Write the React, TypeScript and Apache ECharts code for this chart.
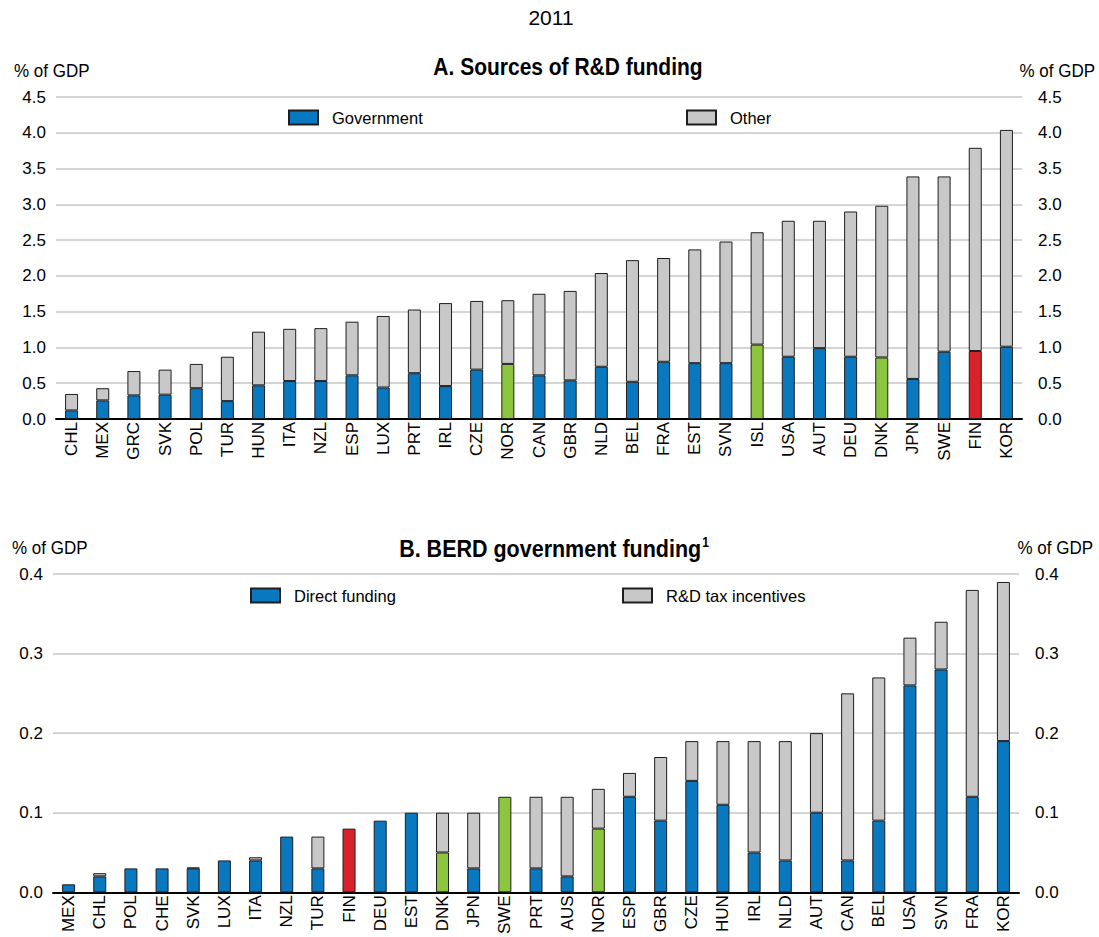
import React, { useEffect, useRef } from "react";
import * as echarts from "echarts";

const topCountries = ["CHL","MEX","GRC","SVK","POL","TUR","HUN","ITA","NZL","ESP","LUX","PRT","IRL","CZE","NOR","CAN","GBR","NLD","BEL","FRA","EST","SVN","ISL","USA","AUT","DEU","DNK","JPN","SWE","FIN","KOR"];
const topGovernment = [0.12,0.26,0.33,0.34,0.43,0.25,0.47,0.53,0.53,0.61,0.44,0.64,0.46,0.69,0.77,0.61,0.54,0.73,0.52,0.80,0.78,0.78,1.04,0.87,0.99,0.87,0.86,0.56,0.94,0.95,1.01];
const topOther = [0.23,0.17,0.34,0.35,0.34,0.62,0.75,0.73,0.74,0.75,1.00,0.89,1.16,0.96,0.89,1.14,1.25,1.31,1.70,1.45,1.59,1.70,1.57,1.90,1.78,2.03,2.12,2.83,2.45,2.84,3.03];

const bottomCountries = ["MEX","CHL","POL","CHE","SVK","LUX","ITA","NZL","TUR","FIN","DEU","EST","DNK","JPN","SWE","PRT","AUS","NOR","ESP","GBR","CZE","HUN","IRL","NLD","AUT","CAN","BEL","USA","SVN","FRA","KOR"];
const bottomDirect = [0.01,0.02,0.03,0.03,0.03,0.04,0.04,0.07,0.03,0.08,0.09,0.10,0.05,0.03,0.12,0.03,0.02,0.08,0.12,0.09,0.14,0.11,0.05,0.04,0.10,0.04,0.09,0.26,0.28,0.12,0.19];
const bottomTax = [0,0.004,0,0,0.001,0,0.004,0,0.04,0,0,0,0.05,0.07,0,0.09,0.10,0.05,0.03,0.08,0.05,0.08,0.14,0.15,0.10,0.21,0.18,0.06,0.06,0.26,0.20];

const topTicks = [0, 0.5, 1, 1.5, 2, 2.5, 3, 3.5, 4, 4.5];
const bottomTicks = [0, 0.1, 0.2, 0.3, 0.4];

const topGreen = ["NOR", "ISL", "DNK"];
const bottomGreen = ["DNK", "SWE", "NOR"];
const redCountries = ["FIN"];

const BLUE = "#0a78be";
const GRAY = "#c8c8c8";
const GREEN = "#8cc63f";
const RED = "#d9232a";
const BORDER = "#1e1e1e";
const FONT = "'Liberation Sans Narrow', 'Liberation Sans', Arial, sans-serif";

function colored(countries: string[], values: number[], greens: string[]) {
  return values.map((v, i) => {
    const c = countries[i];
    if (redCountries.includes(c)) return { value: v, itemStyle: { color: RED } };
    if (greens.includes(c)) return { value: v, itemStyle: { color: GREEN } };
    return v;
  });
}

export default function App() {
  const ref = useRef<HTMLDivElement>(null);
  useEffect(() => {
    document.body.style.margin = "0";
    const chart = echarts.init(ref.current!, null, { renderer: "svg" });
    const axisLabelStyle = { color: "#000", fontSize: 17, fontFamily: FONT };
    const fmt = (v: number) => v.toFixed(1);
    const yAxisBase = (grid: number, ticks: number[], pos: string, showSplit: boolean) => ({
      type: "value",
      gridIndex: grid,
      position: pos,
      min: ticks[0],
      max: ticks[ticks.length - 1],
      interval: ticks[1] - ticks[0],
      axisLine: { show: false },
      axisTick: { show: false },
      axisLabel: { ...axisLabelStyle, formatter: fmt, margin: pos === "left" ? 10 : 16 },
      splitLine: { show: showSplit, lineStyle: { color: "#d4d4d4", width: 2 } },
    });
    const xAxisBase = (grid: number, cats: string[]) => ({
      type: "category",
      gridIndex: grid,
      data: cats,
      axisLine: { lineStyle: { color: "#000", width: 2 } },
      axisTick: { show: false },
      axisLabel: { ...axisLabelStyle, rotate: 90, interval: 0, margin: 3 },
    });
    const legendBase = (name: string, left: number, top: number) => ({
      data: [name],
      left,
      top,
      padding: 0,
      itemWidth: 29,
      itemHeight: 14,
      icon: "rect",
      selectedMode: false,
      textStyle: { color: "#000", fontSize: 16.5, fontFamily: FONT, padding: [0, 0, 0, 9] },
    });
    const txt = (text: string, x: number, y: number, size: number, align: string, extra: any = {}) => ({
      type: "text", x, y, scaleY: extra.scaleY ?? 1,
      style: { text, fill: "#000", fontSize: size, fontFamily: FONT, align, verticalAlign: "middle", fontWeight: extra.bold ? "bold" : "normal", rich: extra.rich },
    });
    chart.setOption({
      animation: false,
      backgroundColor: "#fff",
      textStyle: { fontFamily: FONT },
      grid: [
        { left: 56, right: 77, top: 97, height: 322 },
        { left: 53, right: 80, top: 574, height: 322 },
      ],
      legend: [
        legendBase("Government", 288, 109),
        legendBase("Other", 686, 109),
        legendBase("Direct funding", 250, 587),
        legendBase("R&D tax incentives", 622, 587),
      ],
      xAxis: [xAxisBase(0, topCountries), xAxisBase(1, bottomCountries)],
      yAxis: [
        yAxisBase(0, topTicks, "left", true),
        yAxisBase(0, topTicks, "right", false),
        yAxisBase(1, bottomTicks, "left", true),
        yAxisBase(1, bottomTicks, "right", false),
      ],
      series: [
        {
          name: "Government", type: "bar", stack: "a", xAxisIndex: 0, yAxisIndex: 0, barWidth: 13,
          itemStyle: { color: BLUE, borderColor: BORDER, borderWidth: 1 },
          data: colored(topCountries, topGovernment, topGreen),
        },
        {
          name: "Other", type: "bar", stack: "a", xAxisIndex: 0, yAxisIndex: 0, barWidth: 13,
          itemStyle: { color: GRAY, borderColor: BORDER, borderWidth: 1 },
          data: topOther.map((v) => (v > 0 ? v : null)),
        },
        {
          name: "Direct funding", type: "bar", stack: "b", xAxisIndex: 1, yAxisIndex: 2, barWidth: 13,
          itemStyle: { color: BLUE, borderColor: BORDER, borderWidth: 1 },
          data: colored(bottomCountries, bottomDirect, bottomGreen),
        },
        {
          name: "R&D tax incentives", type: "bar", stack: "b", xAxisIndex: 1, yAxisIndex: 2, barWidth: 13,
          itemStyle: { color: GRAY, borderColor: BORDER, borderWidth: 1 },
          data: bottomTax.map((v) => (v > 0 ? v : null)),
        },
      ],
      graphic: [
        txt("2011", 551, 17, 21, "center"),
        txt("A. Sources of R&D funding", 568, 67, 21, "center", { bold: true, scaleY: 1.15 }),
        txt("% of GDP", 14, 71, 17, "left", { scaleY: 1.12 }),
        txt("% of GDP", 1095, 71, 17, "right", { scaleY: 1.12 }),
        txt("B. BERD government funding{sup|1}", 554, 548, 21.5, "center", {
          bold: true, scaleY: 1.15,
          rich: { sup: { fontSize: 12, fontWeight: "bold", fontFamily: FONT, verticalAlign: "top", padding: [0, 0, 10, 1], fill: "#000" } },
        }),
        txt("% of GDP", 12, 548, 17, "left", { scaleY: 1.12 }),
        txt("% of GDP", 1093, 548, 17, "right", { scaleY: 1.12 }),
      ],
    });
    return () => chart.dispose();
  }, []);
  return <div ref={ref} style={{ position: "absolute", left: 0, top: 0, width: 1099, height: 937 }} />;
}
